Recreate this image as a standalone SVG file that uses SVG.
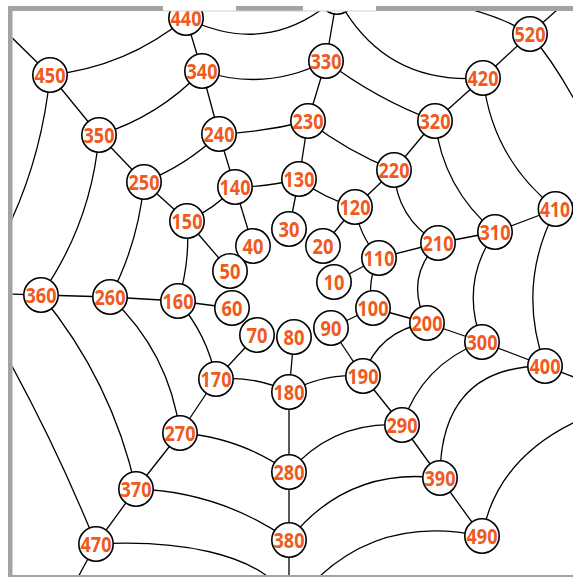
<svg xmlns="http://www.w3.org/2000/svg" width="573" height="577" viewBox="0 0 573 577">
<defs>
<style>
.e{fill:none;stroke:#000;stroke-width:1.3}
.n circle{fill:#fff;stroke:#000;stroke-width:1.6}
.n text{font-family:"Open Sans","DejaVu Sans",sans-serif;font-weight:700;font-size:21px;fill:#ef5a20;text-anchor:middle}
.fr{fill:#a3a3a3}
</style>
<clipPath id="vp"><rect x="12.5" y="11" width="561" height="564"/></clipPath>
</defs>
<rect x="0" y="0" width="573" height="577" fill="#fff"/>
<g clip-path="url(#vp)">
<g id="connectors" class="e">
<path d="M334 282L379 258"/><path d="M323 246L355 207"/><path d="M289 229L299 179"/><path d="M253 246L235 187"/>
<path d="M230 271L187 221"/><path d="M232 308L178 301"/><path d="M257 335L216 379"/><path d="M294 337L289 392"/>
<path d="M331 328L363 376"/><path d="M331 328L373 308"/><path d="M373 308L427 323"/><path d="M379 258L438 243"/>
<path d="M355 207L394 170"/><path d="M299 179L308 121"/><path d="M235 187L219 134"/><path d="M187 221L144 182"/>
<path d="M178 301L110 297"/><path d="M216 379L180 433"/><path d="M289 392L289 472"/><path d="M363 376L402 425"/>
<path d="M427 323L482 342"/><path d="M438 243L495 232"/><path d="M394 170L435 121"/><path d="M308 121L326 61"/>
<path d="M219 134L202 71"/><path d="M144 182L99 135"/><path d="M110 297L41 295"/><path d="M180 433L136 489"/>
<path d="M289 472L289 540"/><path d="M402 425L440 478"/><path d="M482 342L545 366"/><path d="M495 232L556 209"/>
<path d="M435 121L483 78"/><path d="M326 61L337 -3"/><path d="M202 71L186 18"/><path d="M99 135L50 75"/>
<path d="M41 295L-30 293"/><path d="M136 489L96 544"/><path d="M289 540L289 612"/><path d="M440 478L482 536"/>
<path d="M545 366L610 391"/><path d="M556 209L617 186"/><path d="M483 78L530 34"/><path d="M50 75L0 26"/>
<path d="M96 544L70 592"/><path d="M530 34L566 2"/>
<path d="M373 308Q366 281.8 379 258"/>
<path d="M379 258Q359.4 236.1 355 207"/>
<path d="M355 207Q324.2 198.6 299 179"/>
<path d="M299 179Q267.5 187 235 187"/>
<path d="M235 187Q214.4 208.8 187 221"/>
<path d="M187 221Q190.5 261.9 178 301"/>
<path d="M178 301Q207.5 334.9 216 379"/>
<path d="M216 379Q254.3 375.3 289 392"/>
<path d="M289 392Q323.6 372.9 363 376"/>
<path d="M363 376Q379.1 330.3 427 323"/>
<path d="M427 323Q403.7 279 438 243"/>
<path d="M438 243Q396.3 218.4 394 170"/>
<path d="M394 170Q347.6 151.5 308 121"/>
<path d="M308 121Q264.2 132 219 134"/>
<path d="M219 134Q186.3 165.5 144 182"/>
<path d="M144 182Q138.5 242.9 110 297"/>
<path d="M110 297Q169.5 352.4 180 433"/>
<path d="M180 433Q240 437.2 289 472"/>
<path d="M289 472Q333.8 420.3 402 425"/>
<path d="M402 425Q422.1 364.3 482 342"/>
<path d="M482 342Q459.4 283.6 495 232"/>
<path d="M495 232Q442.8 188.5 435 121"/>
<path d="M435 121Q376.1 99 326 61"/>
<path d="M326 61Q266.1 92 202 71"/>
<path d="M202 71Q158.8 116.4 99 135"/>
<path d="M99 135Q91.6 222.8 41 295"/>
<path d="M41 295Q111.8 380.6 136 489"/>
<path d="M136 489Q220.2 491.6 289 540"/>
<path d="M289 540Q347.1 466.7 440 478"/>
<path d="M440 478Q440 366 545 366"/>
<path d="M545 366Q516 285.1 556 209"/>
<path d="M556 209Q492 158.8 483 78"/>
<path d="M483 78Q383.3 85.7 337 -3"/>
<path d="M337 -3Q268.6 58.8 186 18"/>
<path d="M186 18Q126.6 66.9 50 75"/>
<path d="M50 75Q38.3 194.4 -30 293"/>
<path d="M-30 293Q43 413.5 96 544"/>
<path d="M96 544C170 540 260 550 289 600"/>
<path d="M289 612Q360.4 510.3 482 536"/>
<path d="M482 536Q500 440 620 405"/>
<path d="M600 150Q565 75 530 34"/>
<path d="M530 34Q495 12 430 0"/>
</g>
<g id="n10" class="n"><circle cx="334" cy="282" r="17.2"/><text x="334" y="289.5" textLength="21" lengthAdjust="spacingAndGlyphs">10</text></g>
<g id="n20" class="n"><circle cx="323" cy="246" r="17.2"/><text x="323" y="253.5" textLength="21" lengthAdjust="spacingAndGlyphs">20</text></g>
<g id="n30" class="n"><circle cx="289" cy="229" r="17.2"/><text x="289" y="236.5" textLength="21" lengthAdjust="spacingAndGlyphs">30</text></g>
<g id="n40" class="n"><circle cx="253" cy="246" r="17.2"/><text x="253" y="253.5" textLength="21" lengthAdjust="spacingAndGlyphs">40</text></g>
<g id="n50" class="n"><circle cx="230" cy="271" r="17.2"/><text x="230" y="278.5" textLength="21" lengthAdjust="spacingAndGlyphs">50</text></g>
<g id="n60" class="n"><circle cx="232" cy="308" r="17.2"/><text x="232" y="315.5" textLength="21" lengthAdjust="spacingAndGlyphs">60</text></g>
<g id="n70" class="n"><circle cx="257" cy="335" r="17.2"/><text x="257" y="342.5" textLength="21" lengthAdjust="spacingAndGlyphs">70</text></g>
<g id="n80" class="n"><circle cx="294" cy="337" r="17.2"/><text x="294" y="344.5" textLength="21" lengthAdjust="spacingAndGlyphs">80</text></g>
<g id="n90" class="n"><circle cx="331" cy="328" r="17.2"/><text x="331" y="335.5" textLength="21" lengthAdjust="spacingAndGlyphs">90</text></g>
<g id="n100" class="n"><circle cx="373" cy="308" r="17.2"/><text x="373" y="315.5" textLength="31" lengthAdjust="spacingAndGlyphs">100</text></g>
<g id="n110" class="n"><circle cx="379" cy="258" r="17.2"/><text x="379" y="265.5" textLength="31" lengthAdjust="spacingAndGlyphs">110</text></g>
<g id="n120" class="n"><circle cx="355" cy="207" r="17.2"/><text x="355" y="214.5" textLength="31" lengthAdjust="spacingAndGlyphs">120</text></g>
<g id="n130" class="n"><circle cx="299" cy="179" r="17.2"/><text x="299" y="186.5" textLength="31" lengthAdjust="spacingAndGlyphs">130</text></g>
<g id="n140" class="n"><circle cx="235" cy="187" r="17.2"/><text x="235" y="194.5" textLength="31" lengthAdjust="spacingAndGlyphs">140</text></g>
<g id="n150" class="n"><circle cx="187" cy="221" r="17.2"/><text x="187" y="228.5" textLength="31" lengthAdjust="spacingAndGlyphs">150</text></g>
<g id="n160" class="n"><circle cx="178" cy="301" r="17.2"/><text x="178" y="308.5" textLength="31" lengthAdjust="spacingAndGlyphs">160</text></g>
<g id="n170" class="n"><circle cx="216" cy="379" r="17.2"/><text x="216" y="386.5" textLength="31" lengthAdjust="spacingAndGlyphs">170</text></g>
<g id="n180" class="n"><circle cx="289" cy="392" r="17.2"/><text x="289" y="399.5" textLength="31" lengthAdjust="spacingAndGlyphs">180</text></g>
<g id="n190" class="n"><circle cx="363" cy="376" r="17.2"/><text x="363" y="383.5" textLength="31" lengthAdjust="spacingAndGlyphs">190</text></g>
<g id="n200" class="n"><circle cx="427" cy="323" r="17.2"/><text x="427" y="330.5" textLength="31" lengthAdjust="spacingAndGlyphs">200</text></g>
<g id="n210" class="n"><circle cx="438" cy="243" r="17.2"/><text x="438" y="250.5" textLength="31" lengthAdjust="spacingAndGlyphs">210</text></g>
<g id="n220" class="n"><circle cx="394" cy="170" r="17.2"/><text x="394" y="177.5" textLength="31" lengthAdjust="spacingAndGlyphs">220</text></g>
<g id="n230" class="n"><circle cx="308" cy="121" r="17.2"/><text x="308" y="128.5" textLength="31" lengthAdjust="spacingAndGlyphs">230</text></g>
<g id="n240" class="n"><circle cx="219" cy="134" r="17.2"/><text x="219" y="141.5" textLength="31" lengthAdjust="spacingAndGlyphs">240</text></g>
<g id="n250" class="n"><circle cx="144" cy="182" r="17.2"/><text x="144" y="189.5" textLength="31" lengthAdjust="spacingAndGlyphs">250</text></g>
<g id="n260" class="n"><circle cx="110" cy="297" r="17.2"/><text x="110" y="304.5" textLength="31" lengthAdjust="spacingAndGlyphs">260</text></g>
<g id="n270" class="n"><circle cx="180" cy="433" r="17.2"/><text x="180" y="440.5" textLength="31" lengthAdjust="spacingAndGlyphs">270</text></g>
<g id="n280" class="n"><circle cx="289" cy="472" r="17.2"/><text x="289" y="479.5" textLength="31" lengthAdjust="spacingAndGlyphs">280</text></g>
<g id="n290" class="n"><circle cx="402" cy="425" r="17.2"/><text x="402" y="432.5" textLength="31" lengthAdjust="spacingAndGlyphs">290</text></g>
<g id="n300" class="n"><circle cx="482" cy="342" r="17.2"/><text x="482" y="349.5" textLength="31" lengthAdjust="spacingAndGlyphs">300</text></g>
<g id="n310" class="n"><circle cx="495" cy="232" r="17.2"/><text x="495" y="239.5" textLength="31" lengthAdjust="spacingAndGlyphs">310</text></g>
<g id="n320" class="n"><circle cx="435" cy="121" r="17.2"/><text x="435" y="128.5" textLength="31" lengthAdjust="spacingAndGlyphs">320</text></g>
<g id="n330" class="n"><circle cx="326" cy="61" r="17.2"/><text x="326" y="68.5" textLength="31" lengthAdjust="spacingAndGlyphs">330</text></g>
<g id="n340" class="n"><circle cx="202" cy="71" r="17.2"/><text x="202" y="78.5" textLength="31" lengthAdjust="spacingAndGlyphs">340</text></g>
<g id="n350" class="n"><circle cx="99" cy="135" r="17.2"/><text x="99" y="142.5" textLength="31" lengthAdjust="spacingAndGlyphs">350</text></g>
<g id="n360" class="n"><circle cx="41" cy="295" r="17.2"/><text x="41" y="302.5" textLength="31" lengthAdjust="spacingAndGlyphs">360</text></g>
<g id="n370" class="n"><circle cx="136" cy="489" r="17.2"/><text x="136" y="496.5" textLength="31" lengthAdjust="spacingAndGlyphs">370</text></g>
<g id="n380" class="n"><circle cx="289" cy="540" r="17.2"/><text x="289" y="547.5" textLength="31" lengthAdjust="spacingAndGlyphs">380</text></g>
<g id="n390" class="n"><circle cx="440" cy="478" r="17.2"/><text x="440" y="485.5" textLength="31" lengthAdjust="spacingAndGlyphs">390</text></g>
<g id="n400" class="n"><circle cx="545" cy="366" r="17.2"/><text x="545" y="373.5" textLength="31" lengthAdjust="spacingAndGlyphs">400</text></g>
<g id="n410" class="n"><circle cx="555.5" cy="209" r="17.2"/><text x="555" y="216.5" textLength="30" lengthAdjust="spacingAndGlyphs">410</text></g>
<g id="n420" class="n"><circle cx="483" cy="78" r="17.2"/><text x="483" y="85.5" textLength="31" lengthAdjust="spacingAndGlyphs">420</text></g>
<g id="n430" class="n"><circle cx="337" cy="-3" r="17.2"/></g>
<g id="n440" class="n"><circle cx="186" cy="18" r="17.2"/><text x="186" y="25.5" textLength="31" lengthAdjust="spacingAndGlyphs">440</text></g>
<g id="n450" class="n"><circle cx="50" cy="75" r="17.2"/><text x="50" y="82.5" textLength="31" lengthAdjust="spacingAndGlyphs">450</text></g>
<g id="n470" class="n"><circle cx="96" cy="544" r="17.2"/><text x="96" y="551.5" textLength="31" lengthAdjust="spacingAndGlyphs">470</text></g>
<g id="n490" class="n"><circle cx="482" cy="536" r="17.2"/><text x="482" y="543.5" textLength="31" lengthAdjust="spacingAndGlyphs">490</text></g>
<g id="n520" class="n"><circle cx="530" cy="34" r="17.2"/><text x="530" y="41.5" textLength="31" lengthAdjust="spacingAndGlyphs">520</text></g>
</g>
<g id="frame">
<rect class="fr" x="8" y="6" width="155" height="5"/>
<rect class="fr" x="236" y="6" width="67" height="5"/>
<rect class="fr" x="376" y="6" width="197" height="5"/>
<rect x="163" y="10.5" width="213" height="1" fill="#cfcfcf"/>
<rect class="fr" x="8" y="6" width="4.5" height="571"/>
<rect class="fr" x="12" y="575" width="561" height="2"/>
</g>
</svg>
